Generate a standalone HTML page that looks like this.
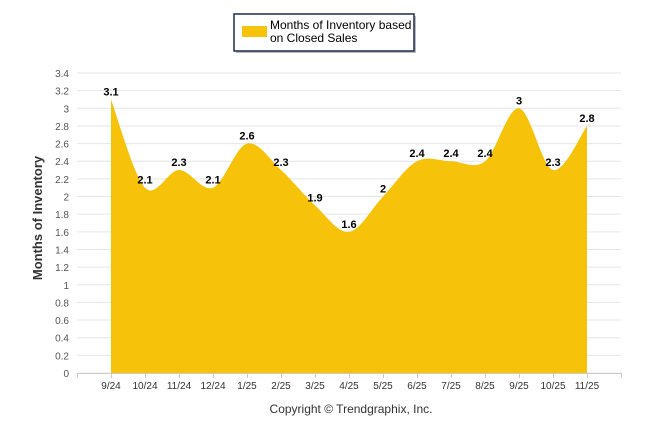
<!DOCTYPE html>
<html><head><meta charset="utf-8"><style>
body{margin:0;background:#fff;font-family:"Liberation Sans",sans-serif}
svg text{font-family:"Liberation Sans",sans-serif}
</style></head><body>
<svg width="646" height="434" id="c">
<rect x="236" y="16" width="180" height="37" fill="#bbb"/>
<rect x="234" y="14" width="180" height="37" fill="#fff" stroke="#1f2d4d" stroke-width="1.5"/>
<rect x="242" y="26" width="25" height="11" fill="#f7c20a"/>
<text x="270" y="29" font-size="12" fill="#000">Months of Inventory based</text>
<text x="270" y="42" font-size="12" fill="#000">on Closed Sales</text>
<text transform="translate(42,218) rotate(-90)" text-anchor="middle" font-size="13" font-weight="bold" fill="#333">Months of Inventory</text>
<text x="351" y="413" text-anchor="middle" font-size="12" fill="#333">Copyright © Trendgraphix, Inc.</text>
<g id="grid"></g><g id="area"></g><g id="labels"></g>
</svg>
<script>
const categories=["9/24","10/24","11/24","12/24","1/25","2/25","3/25","4/25","5/25","6/25","7/25","8/25","9/25","10/25","11/25"];
const values=[3.1,2.1,2.3,2.1,2.6,2.3,1.9,1.6,2,2.4,2.4,2.4,3,2.3,2.8];
const yTicks=[0,0.2,0.4,0.6,0.8,1,1.2,1.4,1.6,1.8,2,2.2,2.4,2.6,2.8,3,3.2,3.4];
const NS="http://www.w3.org/2000/svg";
const y=v=>373-v*300/3.4, x=i=>111+i*34;
function mk(t,a,p){const e=document.createElementNS(NS,t);for(const k in a)e.setAttribute(k,a[k]);p.appendChild(e);return e;}
const g=document.getElementById('grid');
yTicks.forEach(t=>{
 const l=mk('line',{x1:77,x2:621,y1:y(t),y2:y(t),stroke:'#e6e6e6'},g);
 
 
 const tx=mk('text',{x:69,y:y(t)+4,'text-anchor':'end','font-size':10,fill:'#555'},g);
 tx.textContent=String(t);
 
 
});
mk('line',{x1:77,x2:621,y1:373.5,y2:373.5,stroke:'#ccc'},g);
for(let i=-1;i<categories.length+1;i++){mk('line',{x1:x(i)+0.5,x2:x(i)+0.5,y1:373,y2:378,stroke:'#ccc'},g);}
categories.forEach((c,i)=>{
 const t=mk('text',{x:x(i),y:389,'text-anchor':'middle','font-size':10,fill:'#333'},g);
 t.textContent=c;
 
 
});
let d=`M${x(0)},${y(values[0])}`;
for(let i=0;i<values.length-1;i++){
 const p0=[x(Math.max(i-1,0)),y(values[Math.max(i-1,0)])],p1=[x(i),y(values[i])],p2=[x(i+1),y(values[i+1])],p3=[x(Math.min(i+2,values.length-1)),y(values[Math.min(i+2,values.length-1)])];
 const s=6;
 d+=` C${p1[0]+(p2[0]-p0[0])/s},${p1[1]+(p2[1]-p0[1])/s} ${p2[0]-(p3[0]-p1[0])/s},${p2[1]-(p3[1]-p1[1])/s} ${p2[0]},${p2[1]}`;
}
d+=` L${x(values.length-1)},373 L${x(0)},373 Z`;
const a=mk('path',{d:d,fill:'#f7c20a',stroke:'none'},document.getElementById('area'));


const L=document.getElementById('labels');
values.forEach((v,i)=>{
 const t=mk('text',{x:x(i),y:y(v)-4,'text-anchor':'middle','font-size':11,'font-weight':'bold',fill:'#000'},L);
 t.textContent=String(v);
 
 
});
</script>
</body></html>
